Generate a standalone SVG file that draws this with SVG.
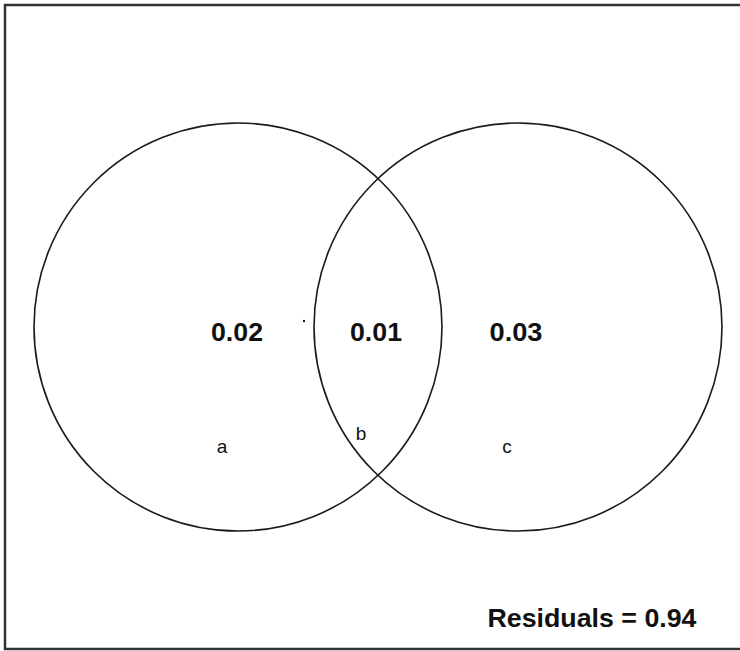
<svg xmlns="http://www.w3.org/2000/svg" width="740" height="651" viewBox="0 0 740 651">
<style>
.frame{fill:none;stroke:#333;stroke-width:2.5}
.set{fill:none;stroke:#1a1a1a;stroke-width:1.6}
.val{font-family:"Liberation Sans",Arial,sans-serif;font-weight:bold;font-size:25px;fill:#111;text-anchor:middle}
.lab{font-family:"Liberation Sans",Arial,sans-serif;font-size:19px;fill:#111;text-anchor:middle}
</style>
<rect width="740" height="651" fill="#fff"/>
<path class="frame" d="M742,5 H5 V649 H742"/>
<g id="set-a"><circle class="set" cx="238" cy="327" r="204"/><text class="lab" x="222" y="453">a</text></g>
<g id="set-c"><circle class="set" cx="518" cy="327" r="204"/><text class="lab" x="507" y="453">c</text></g>
<g id="region-b"><text class="lab" x="361" y="440">b</text></g>
<g id="values">
<text class="val" x="237" y="341" textLength="52" lengthAdjust="spacingAndGlyphs">0.02</text>
<text class="val" x="376" y="341" textLength="52" lengthAdjust="spacingAndGlyphs">0.01</text>
<text class="val" x="516" y="341" textLength="53" lengthAdjust="spacingAndGlyphs">0.03</text>
<circle cx="304" cy="321" r="1.2" fill="#111"/>
</g>
<g id="residuals"><text class="val" x="592" y="627" textLength="209" lengthAdjust="spacingAndGlyphs">Residuals = 0.94</text></g>
</svg>
